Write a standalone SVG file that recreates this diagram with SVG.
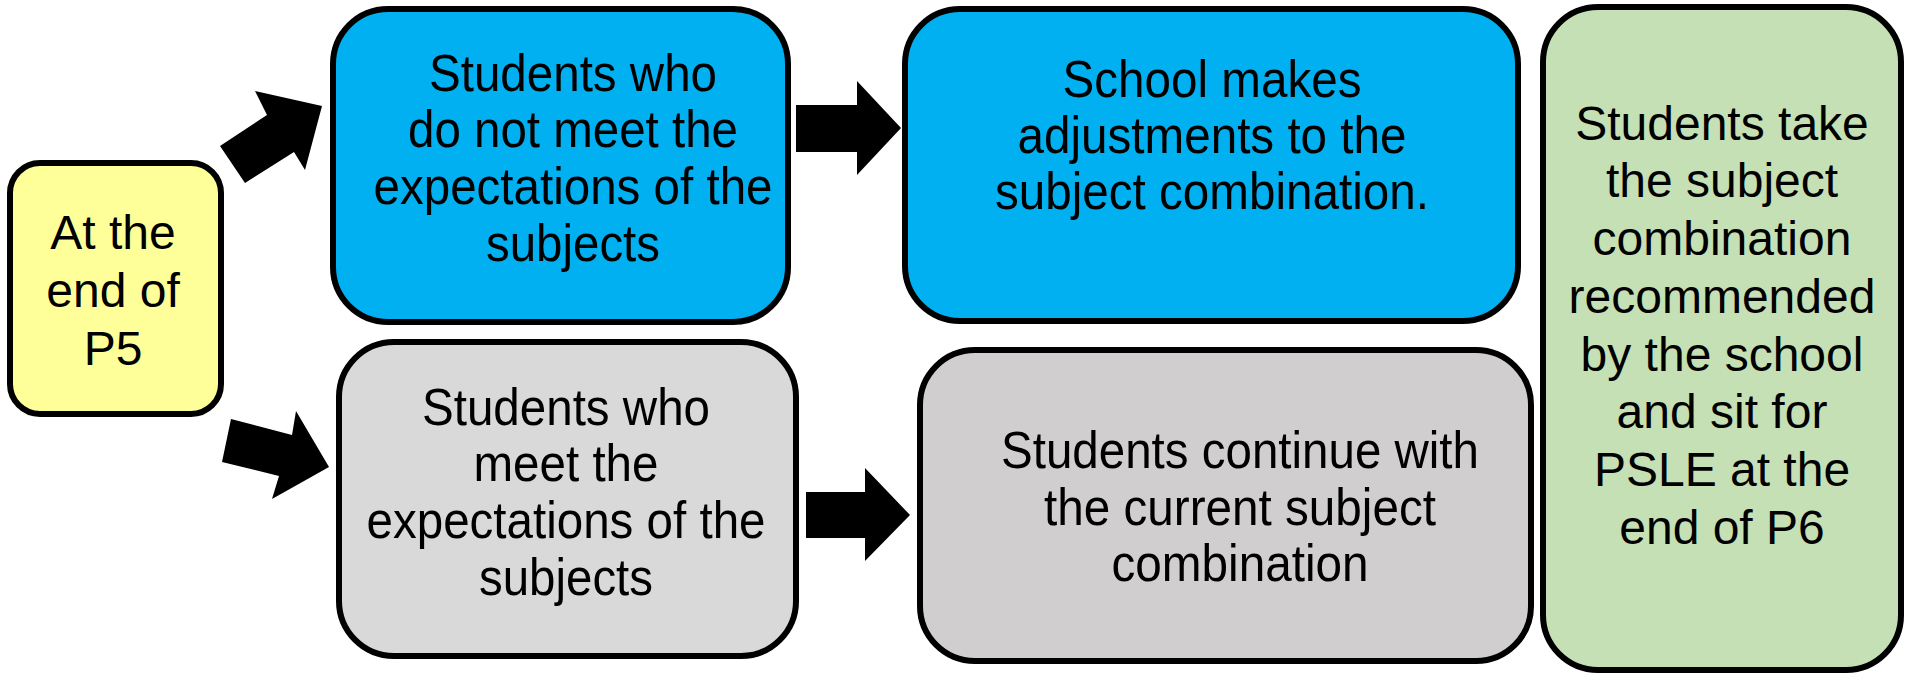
<svg xmlns="http://www.w3.org/2000/svg" width="1905" height="674" viewBox="0 0 1905 674">
<style>
.box{stroke:#000;stroke-width:6}
.w{font-family:"Liberation Sans",Arial,sans-serif;font-size:48px;fill:#000;text-anchor:middle}
.n{font-family:"Liberation Sans",Arial,sans-serif;font-size:52px;fill:#000;text-anchor:middle}
.arrow{fill:#000}
</style>
<rect width="1905" height="674" fill="#fff"/>
<g id="connectors">
<polygon class="arrow" points="220,146 267,115 255,91 322,106 305,170 294,152 245,183"/>
<polygon class="arrow" points="231,419 292,435 296,411 329,467 272,499 279,476 222,462"/>
<polygon class="arrow" points="796,105 857,105 857,81 901,128 857,175 857,152 796,152"/>
<polygon class="arrow" points="806,492 865,492 865,468 910,515 865,561 865,538 806,538"/>
</g>
<g id="node-p5">
<rect class="box" x="10" y="163" width="211" height="251" rx="30" fill="#FFFF99"/>
<text class="w"><tspan x="113" y="249">At the</tspan><tspan x="113" y="307">end of</tspan><tspan x="113" y="365">P5</tspan></text>
</g>
<g id="node-not-meet">
<rect class="box" x="333" y="9" width="455" height="313" rx="55" fill="#00B0F0"/>
<text class="n" x="573" y="91" textLength="288" lengthAdjust="spacingAndGlyphs">Students who</text>
<text class="n" x="573" y="147" textLength="330" lengthAdjust="spacingAndGlyphs">do not meet the</text>
<text class="n" x="573" y="204" textLength="399" lengthAdjust="spacingAndGlyphs">expectations of the</text>
<text class="n" x="573" y="261" textLength="174" lengthAdjust="spacingAndGlyphs">subjects</text>
</g>
<g id="node-adjust">
<rect class="box" x="905" y="9" width="613" height="312" rx="55" fill="#00B0F0"/>
<text class="n" x="1212" y="97" textLength="299" lengthAdjust="spacingAndGlyphs">School makes</text>
<text class="n" x="1212" y="153" textLength="389" lengthAdjust="spacingAndGlyphs">adjustments to the</text>
<text class="n" x="1212" y="209" textLength="434" lengthAdjust="spacingAndGlyphs">subject combination.</text>
</g>
<g id="node-meet">
<rect class="box" x="339" y="342" width="457" height="314" rx="55" fill="#D9D9D9"/>
<text class="n" x="566" y="425" textLength="288" lengthAdjust="spacingAndGlyphs">Students who</text>
<text class="n" x="566" y="481" textLength="185" lengthAdjust="spacingAndGlyphs">meet the</text>
<text class="n" x="566" y="538" textLength="399" lengthAdjust="spacingAndGlyphs">expectations of the</text>
<text class="n" x="566" y="595" textLength="174" lengthAdjust="spacingAndGlyphs">subjects</text>
</g>
<g id="node-continue">
<rect class="box" x="920" y="350" width="611" height="311" rx="55" fill="#D0CECE"/>
<text class="n" x="1240" y="468" textLength="478" lengthAdjust="spacingAndGlyphs">Students continue with</text>
<text class="n" x="1240" y="525" textLength="392" lengthAdjust="spacingAndGlyphs">the current subject</text>
<text class="n" x="1240" y="581" textLength="257" lengthAdjust="spacingAndGlyphs">combination</text>
</g>
<g id="node-psle">
<rect class="box" x="1543" y="7" width="358" height="663" rx="55" fill="#C5E0B4"/>
<text class="w"><tspan x="1722" y="140">Students take</tspan><tspan x="1722" y="197">the subject</tspan><tspan x="1722" y="255">combination</tspan><tspan x="1722" y="313">recommended</tspan><tspan x="1722" y="371">by the school</tspan><tspan x="1722" y="428">and sit for</tspan><tspan x="1722" y="486">PSLE at the</tspan><tspan x="1722" y="544">end of P6</tspan></text>
</g>
</svg>
